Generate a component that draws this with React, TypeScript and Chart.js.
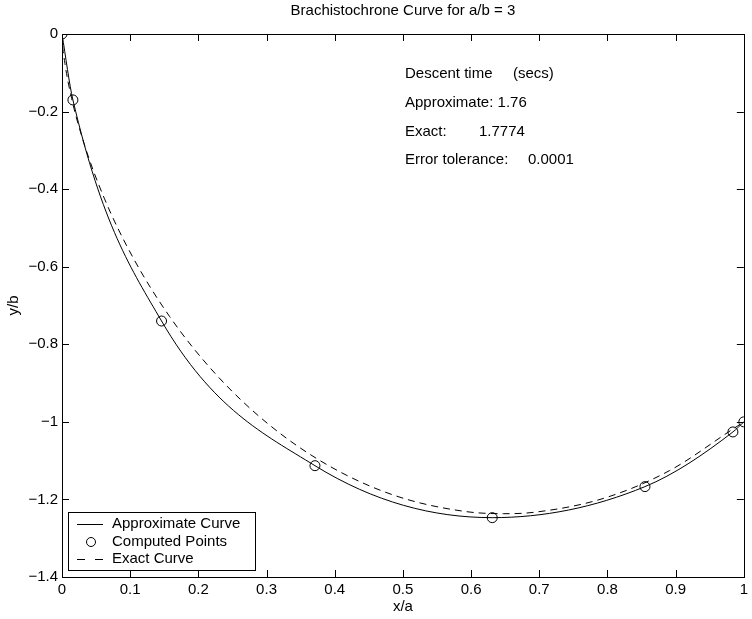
import React, { useEffect, useRef } from "react";
import { Chart, registerables } from "chart.js";

Chart.register(...registerables);

const chartTitle = "Brachistochrone Curve for a/b = 3";
const xAxisLabel = "x/a";
const yAxisLabel = "y/b";

const xTicks = [0, 0.1, 0.2, 0.3, 0.4, 0.5, 0.6, 0.7, 0.8, 0.9, 1];
const xTickLabels = ["0", "0.1", "0.2", "0.3", "0.4", "0.5", "0.6", "0.7", "0.8", "0.9", "1"];
const yTicks = [0, -0.2, -0.4, -0.6, -0.8, -1, -1.2, -1.4];
const yTickLabels = ["0", "\u22120.2", "\u22120.4", "\u22120.6", "\u22120.8", "\u22121", "\u22121.2", "\u22121.4"];

// Computed points (circles) and the approximate curve through them
const computedX = [0, 0.016, 0.146, 0.371, 0.631, 0.855, 0.984, 1];
const computedY = [0, -0.17, -0.74, -1.113, -1.247, -1.167, -1.026, -1.0];

// Exact curve (dashed)
const exactX = [0, 0.0005, 0.0043, 0.0141, 0.0327, 0.062, 0.1036, 0.1579, 0.2248, 0.3034, 0.392, 0.4882, 0.5893, 0.6476, 0.6922, 0.7938, 0.8908, 0.9805, 1];
const exactY = [0, -0.0192, -0.0757, -0.1659, -0.2843, -0.4234, -0.5747, -0.7286, -0.8757, -1.0069, -1.1138, -1.19, -1.2306, -1.2368, -1.2332, -1.1975, -1.1259, -1.0226, -1.0];

const legendLabels = ["Approximate Curve", "Computed Points", "Exact Curve"];
const annotationLines = [
  { label: "Descent time", value: "(secs)" },
  { label: "Approximate: 1.76", value: "" },
  { label: "Exact:", value: "1.7774" },
  { label: "Error tolerance:", value: "0.0001" },
];

const FONT = '"Liberation Sans", Arial, Helvetica, sans-serif';

const decorPlugin = {
  id: "decor",
  afterDraw(chart: any) {
    const ctx = chart.ctx as CanvasRenderingContext2D;
    const ca = chart.chartArea;
    const xs = chart.scales.x;
    const ys = chart.scales.y;
    ctx.save();
    ctx.strokeStyle = "#000";
    ctx.lineWidth = 1;
    // box
    ctx.strokeRect(Math.round(ca.left) + 0.5, Math.round(ca.top) + 0.5, Math.round(ca.right - ca.left), Math.round(ca.bottom - ca.top));
    // inward ticks
    const tl = 7;
    ctx.beginPath();
    xTicks.forEach((v) => {
      const px = Math.round(xs.getPixelForValue(v)) + 0.5;
      ctx.moveTo(px, ca.bottom);
      ctx.lineTo(px, ca.bottom - tl);
      ctx.moveTo(px, ca.top);
      ctx.lineTo(px, ca.top + tl);
    });
    yTicks.forEach((v) => {
      const py = Math.round(ys.getPixelForValue(v)) + 0.5;
      ctx.moveTo(ca.left, py);
      ctx.lineTo(ca.left + tl, py);
      ctx.moveTo(ca.right, py);
      ctx.lineTo(ca.right - tl, py);
    });
    ctx.stroke();

    ctx.fillStyle = "#000";
    ctx.font = `15px ${FONT}`;
    ctx.textBaseline = "middle";
    // title
    ctx.textAlign = "center";
    ctx.fillText(chartTitle, (ca.left + ca.right) / 2, 11);
    // x axis label
    ctx.fillText(xAxisLabel, (ca.left + ca.right) / 2, 607);
    // y axis label
    ctx.save();
    ctx.translate(14, (ca.top + ca.bottom) / 2);
    ctx.rotate(-Math.PI / 2);
    ctx.fillText(yAxisLabel, 0, 0);
    ctx.restore();

    // annotations
    ctx.textAlign = "left";
    const ax = 405;
    const ay = [74, 103, 132, 160];
    const valueX = [513, 0, 479, 528];
    annotationLines.forEach((a, i) => {
      ctx.fillText(a.label, ax, ay[i]);
      if (a.value) ctx.fillText(a.value, valueX[i], ay[i]);
    });

    // legend
    const lx0 = 68, ly0 = 512, lx1 = 255, ly1 = 570;
    ctx.fillStyle = "#fff";
    ctx.fillRect(lx0, ly0, lx1 - lx0, ly1 - ly0);
    ctx.strokeStyle = "#000";
    ctx.strokeRect(lx0 + 0.5, ly0 + 0.5, lx1 - lx0, ly1 - ly0);
    const rows = [524, 542, 559];
    ctx.fillStyle = "#000";
    legendLabels.forEach((t, i) => ctx.fillText(t, 112, rows[i]));
    ctx.beginPath();
    ctx.moveTo(77, rows[0] + 0.5);
    ctx.lineTo(103, rows[0] + 0.5);
    ctx.stroke();
    ctx.beginPath();
    ctx.arc(91, rows[1], 4.5, 0, Math.PI * 2);
    ctx.stroke();
    ctx.beginPath();
    ctx.moveTo(77, rows[2] + 0.5);
    ctx.lineTo(85, rows[2] + 0.5);
    ctx.moveTo(95, rows[2] + 0.5);
    ctx.lineTo(103, rows[2] + 0.5);
    ctx.stroke();
    ctx.restore();
  },
};

export default function App() {
  const ref = useRef<HTMLCanvasElement | null>(null);
  useEffect(() => {
    if (!ref.current) return;
    const approx = computedX.map((x, i) => ({ x, y: computedY[i] }));
    const exact = exactX.map((x, i) => ({ x, y: exactY[i] }));
    const chart = new Chart(ref.current, {
      type: "scatter",
      data: {
        datasets: [
          {
            label: legendLabels[0],
            data: approx,
            showLine: true,
            borderColor: "#000",
            borderWidth: 1,
            pointRadius: 0,
            cubicInterpolationMode: "monotone",
          } as any,
          {
            label: legendLabels[1],
            data: approx,
            showLine: false,
            borderColor: "#000",
            backgroundColor: "rgba(0,0,0,0)",
            borderWidth: 1,
            pointRadius: 5,
            pointStyle: "circle",
          },
          {
            label: legendLabels[2],
            data: exact,
            showLine: true,
            borderColor: "#000",
            borderWidth: 1,
            borderDash: [7, 5],
            pointRadius: 0,
            cubicInterpolationMode: "monotone",
          } as any,
        ],
      },
      options: {
        responsive: false,
        animation: false,
        events: [],
        layout: { padding: { top: 34, right: 4, left: 0, bottom: 0 } },
        plugins: { legend: { display: false }, title: { display: false }, tooltip: { enabled: false } },
        scales: {
          x: {
            type: "linear",
            min: 0,
            max: 1,
            afterBuildTicks: (s: any) => {
              s.ticks = xTicks.map((v) => ({ value: v }));
            },
            afterFit: (s: any) => {
              s.height = 42;
            },
            grid: { display: false, drawTicks: false },
            border: { display: false },
            ticks: {
              color: "#000",
              font: { family: FONT, size: 15 },
              padding: 4,
              maxRotation: 0,
              autoSkip: false,
              callback: (v: any, i: number) => xTickLabels[i],
            },
          },
          y: {
            type: "linear",
            min: -1.4,
            max: 0,
            afterBuildTicks: (s: any) => {
              s.ticks = yTicks.map((v) => ({ value: v }));
            },
            afterFit: (s: any) => {
              s.width = 62;
            },
            grid: { display: false, drawTicks: false },
            border: { display: false },
            ticks: {
              color: "#000",
              font: { family: FONT, size: 15 },
              padding: 4,
              autoSkip: false,
              callback: (v: any, i: number) => yTickLabels[i],
            },
          },
        },
      },
      plugins: [decorPlugin],
    });
    return () => chart.destroy();
  }, []);
  return (
    <div style={{ position: "absolute", left: 0, top: 0, width: 752, height: 619, background: "#fff" }}>
      <canvas ref={ref} width={752} height={619} style={{ display: "block" }} />
    </div>
  );
}
